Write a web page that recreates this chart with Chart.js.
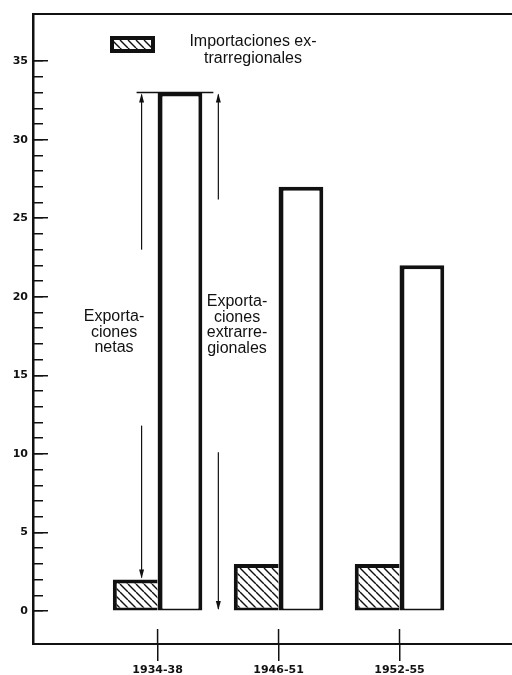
<!DOCTYPE html>
<html>
<head>
<meta charset="utf-8">
<script src="https://cdn.jsdelivr.net/npm/chart.js@4.4.0/dist/chart.umd.min.js"></script>
<style>
body { margin: 0; background: #fff; }
#wrap { width: 512px; height: 675px; }
</style>
</head>
<body>
<div id="wrap"><canvas id="grafico"></canvas></div>
<script>
const periodos = ["1934-38", "1946-51", "1952-55"]
const importaciones = [2, 3, 3]
const exportaciones = [33, 27, 22]
const yTicks = [0, 5, 10, 15, 20, 25, 30, 35]
const leyenda = ["Importaciones ex-", "trarregionales"]
const textoNetas = ["Exporta-", "ciones", "netas"]
const textoExtra = ["Exporta-", "ciones", "extrarre-", "gionales"]

const tinta = "#111"
const canvas = document.getElementById("grafico")

// rayado diagonal para las importaciones
function rayado() {
    const c = document.createElement("canvas")
    c.width = 8
    c.height = 8
    const g = c.getContext("2d")
    g.fillStyle = "#fff"
    g.fillRect(0, 0, 8, 8)
    g.strokeStyle = tinta
    g.lineWidth = 1.4
    g.beginPath()
    for (let k = -1; k <= 1; k++) {
        g.moveTo(k * 8, 0)
        g.lineTo(k * 8 + 8, 8)
    }
    g.stroke()
    return canvas.getContext("2d").createPattern(c, "repeat")
}
const patron = rayado()

function punta(ctx, x, y, dir) {
    ctx.beginPath()
    ctx.moveTo(x, y)
    ctx.lineTo(x - 2.5, y - dir * 9)
    ctx.lineTo(x + 2.5, y - dir * 9)
    ctx.closePath()
    ctx.fill()
}

function linea(ctx, x1, y1, x2, y2) {
    ctx.beginPath()
    ctx.moveTo(x1, y1)
    ctx.lineTo(x2, y2)
    ctx.stroke()
}

const decoracion = {
    id: "decoracion",
    afterDraw(chart) {
        const ctx = chart.ctx
        const x = chart.scales.x
        const y = chart.scales.y
        const abajo = chart.chartArea.bottom
        ctx.save()
        ctx.strokeStyle = tinta
        ctx.fillStyle = tinta

        // parte interior de las marcas del eje x
        ctx.lineWidth = 1.5
        periodos.forEach((p, i) => {
            const px = x.getPixelForValue(i)
            linea(ctx, px, abajo - 15, px, abajo)
        })

        // leyenda
        ctx.fillStyle = patron
        ctx.fillRect(110, 36, 45, 17)
        ctx.lineWidth = 4
        ctx.strokeRect(112, 38, 41, 13)
        ctx.fillStyle = tinta
        ctx.font = "16px 'Liberation Sans'"
        ctx.textAlign = "center"
        ctx.textBaseline = "middle"
        ctx.fillText(leyenda[0], 253, 42)
        ctx.fillText(leyenda[1], 253, 59)

        // flechas del primer periodo
        const imp = chart.getDatasetMeta(0).data[0]
        const exp = chart.getDatasetMeta(1).data[0]
        const izq = exp.x - exp.width / 2
        const der = exp.x + exp.width / 2
        const tope = y.getPixelForValue(exportaciones[0])
        ctx.lineWidth = 1.5
        linea(ctx, izq - 21, tope, der + 11, tope)

        ctx.lineWidth = 1.2
        const xa = izq - 16
        linea(ctx, xa, tope + 2, xa, y.getPixelForValue(23))
        punta(ctx, xa, tope + 1, -1)
        linea(ctx, xa, y.getPixelForValue(11.8), xa, imp.y - 2)
        punta(ctx, xa, imp.y - 1, 1)

        const xb = der + 16
        linea(ctx, xb, tope + 2, xb, y.getPixelForValue(26.2))
        punta(ctx, xb, tope + 1, -1)
        linea(ctx, xb, y.getPixelForValue(10.1), xb, y.getPixelForValue(0) - 2)
        punta(ctx, xb, y.getPixelForValue(0) - 1, 1)

        textoNetas.forEach((t, i) => ctx.fillText(t, 114, 317 + i * 15.5))
        textoExtra.forEach((t, i) => ctx.fillText(t, 237, 302 + i * 15.5))
        ctx.restore()
    }
}

new Chart(canvas, {
    type: "bar",
    data: {
        datasets: [
            {
                label: "Importaciones extrarregionales",
                data: importaciones.map((v, i) => ({ x: i, y: v })),
                backgroundColor: patron,
                borderColor: tinta,
                borderWidth: { top: 4, left: 4, right: 0, bottom: 3 },
                borderSkipped: false,
                categoryPercentage: 0.74,
                barPercentage: 1
            },
            {
                label: "Exportaciones",
                data: exportaciones.map((v, i) => ({ x: i, y: v })),
                backgroundColor: "#fff",
                borderColor: tinta,
                borderWidth: { top: 4, left: 5, right: 4, bottom: 2 },
                borderSkipped: false,
                categoryPercentage: 0.74,
                barPercentage: 1
            }
        ]
    },
    options: {
        responsive: true,
        maintainAspectRatio: false,
        animation: false,
        layout: { autoPadding: false, padding: { top: 14, left: 0, right: 0, bottom: 0 } },
        plugins: {
            legend: { display: false },
            tooltip: { enabled: false }
        },
        scales: {
            x: {
                type: "linear",
                min: -1.03,
                max: 2.93,
                offset: false,
                afterBuildTicks: s => { s.ticks = periodos.map((p, i) => ({ value: i })) },
                ticks: {
                    callback: v => periodos[v],
                    color: tinta,
                    padding: 3,
                    maxRotation: 0,
                    autoSkip: false,
                    font: { family: "DejaVu Sans", weight: "bold", size: 11 }
                },
                grid: { offset: false, drawOnChartArea: false, tickLength: 17, color: tinta, lineWidth: 1.5 },
                border: { color: tinta, width: 2 },
                afterFit: s => { s.height = 31 }
            },
            xTop: {
                type: "linear",
                position: "top",
                ticks: { display: false },
                grid: { display: false, drawTicks: false },
                border: { display: true, color: tinta, width: 2 },
                afterFit: s => { s.height = 0 }
            },
            // etiquetas y linea del eje
            y: {
                position: "left",
                min: -2.1,
                max: 38,
                weight: 2,
                afterBuildTicks: s => { s.ticks = yTicks.map(v => ({ value: v })) },
                ticks: {
                    padding: 5,
                    color: tinta,
                    font: { family: "DejaVu Sans", weight: "bold", size: 11 }
                },
                grid: { drawOnChartArea: false, drawTicks: false },
                border: { color: tinta, width: 2.5 },
                afterFit: s => { s.width = 33 }
            },
            // marcas largas cada 5
            yMayor: {
                position: "left",
                min: -2.1,
                max: 38,
                weight: 1,
                ticks: { display: false },
                afterBuildTicks: s => { s.ticks = yTicks.map(v => ({ value: v })) },
                grid: { drawOnChartArea: false, tickLength: -15, color: tinta, lineWidth: 1.5 },
                border: { display: false },
                afterFit: s => { s.width = 0 }
            },
            // marcas cortas cada 1
            yMenor: {
                position: "left",
                min: -2.1,
                max: 38,
                weight: 0,
                ticks: { display: false, stepSize: 1 },
                afterBuildTicks: s => { s.ticks = s.ticks.filter(t => t.value >= 0 && t.value <= 35) },
                grid: { drawOnChartArea: false, tickLength: -10, color: tinta, lineWidth: 1.5 },
                border: { display: false },
                afterFit: s => { s.width = 0 }
            }
        }
    },
    plugins: [decoracion]
})
</script>
</body>
</html>
